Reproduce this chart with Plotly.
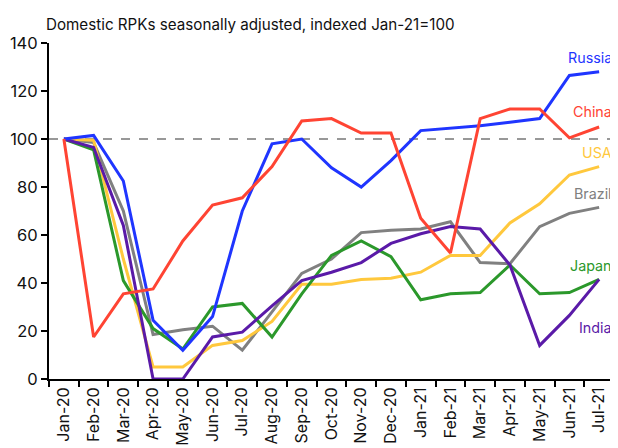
import plotly.graph_objects as go

months = ["Jan-20", "Feb-20", "Mar-20", "Apr-20", "May-20", "Jun-20", "Jul-20", "Aug-20",
          "Sep-20", "Oct-20", "Nov-20", "Dec-20", "Jan-21", "Feb-21", "Mar-21", "Apr-21",
          "May-21", "Jun-21", "Jul-21"]

russia = [100, 101.5, 82.5, 24.5, 12, 26, 70, 98, 100, 88, 80, 91, 103.5, 104.5, 105.5, 107, 108.5, 126.5, 128]
china = [100, 17.5, 35.5, 37.5, 57.5, 72.5, 75.5, 88.5, 107.5, 108.5, 102.5, 102.5, 67, 52.5, 108.5, 112.5, 112.5, 100.5, 105]
usa = [100, 99.5, 50, 5, 5, 14, 16, 24, 39.5, 39.5, 41.5, 42, 44.5, 51.5, 51.5, 65, 73, 85, 88.5]
brazil = [100, 98.5, 70, 18.5, 20.5, 22, 12, 28, 44, 50, 61, 62, 62.5, 65.5, 48.5, 48, 63.5, 69, 71.5]
japan = [100, 95.5, 41, 21, 12.5, 30, 31.5, 17.5, 35.5, 51.5, 57.5, 51, 33, 35.5, 36, 47.5, 35.5, 36, 41.5]
india = [100, 96.5, 64, 0, 0, 17.5, 19.5, 30.5, 41, 44.5, 48.5, 56.5, 60.5, 63.5, 62.5, 47.5, 14, 26.5, 41.5]

series_names = ["Russia", "China", "USA", "Brazil", "Japan", "India"]
series_values = [russia, china, usa, brazil, japan, india]
series_colors = ["#1f35ff", "#ff4433", "#ffc83d", "#808080", "#2b982b", "#5a1aa8"]
label_y = [134, 111.5, 94.4, 77.5, 47.2, 21.3]

title_text = "Domestic RPKs seasonally adjusted, indexed Jan-21=100"
y_ticks = [0, 20, 40, 60, 80, 100, 120, 140]

FONT = "Inter, 'Noto Sans', sans-serif"

fig = go.Figure()

draw_order = [3, 2, 4, 5, 0, 1]
for i in draw_order:
    fig.add_trace(go.Scatter(
        x=months, y=series_values[i], mode="lines", name=series_names[i],
        line=dict(color=series_colors[i], width=3), showlegend=False,
        hoverinfo="skip"))

fig.add_shape(type="line", xref="paper", yref="y", x0=0, x1=1, y0=100, y1=100,
              line=dict(color="#777777", width=1.3, dash="dash"), layer="below")

for name, color, ly in zip(series_names, series_colors, label_y):
    fig.add_annotation(text=name, xref="paper", yref="y", x=1.0, y=ly,
                       xanchor="right", yanchor="middle", showarrow=False,
                       xshift=-1.5, borderpad=0,
                       font=dict(family=FONT, size=14.3, color=color))

# the page body has an 8px margin, so the figure is laid out 8px smaller
fig.update_layout(
    width=610, height=440,
    margin=dict(l=41, r=4, t=35, b=69, autoexpand=False),
    plot_bgcolor="white", paper_bgcolor="white",
    title=dict(text=title_text, x=38 / 610, xref="container", xanchor="left",
               y=1 - 17 / 440, yref="container", yanchor="middle",
               font=dict(family=FONT, size=15.2, color="#111111")),
    font=dict(family=FONT, color="#111111"),
    xaxis=dict(
        type="category", range=[-0.5, 18.5], tickangle=-90,
        tickson="boundaries", ticks="outside", ticklen=6, tickwidth=2, tickcolor="black",
        showline=True, linecolor="black", linewidth=2, showgrid=False, zeroline=False,
        tickfont=dict(family=FONT, size=16, color="#111111"),
    ),
    yaxis=dict(
        range=[0, 140], tickvals=y_ticks, ticks="outside", ticklen=6, tickwidth=2,
        tickcolor="black", showline=True, linecolor="black", linewidth=2,
        showgrid=False, zeroline=False,
        tickfont=dict(family=FONT, size=16.5, color="#111111"),
    ),
)

fig.write_html("out.html")
